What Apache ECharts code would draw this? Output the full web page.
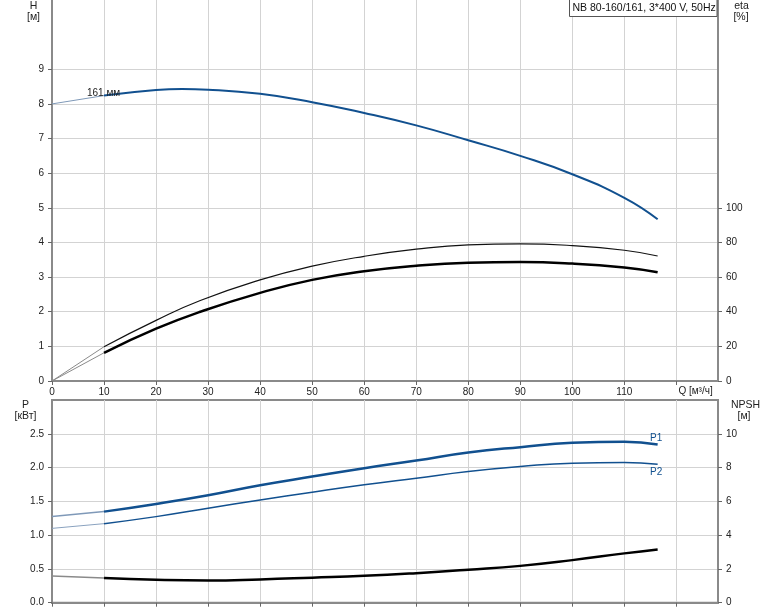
<!DOCTYPE html>
<html>
<head>
<meta charset="utf-8">
<script src="https://cdn.jsdelivr.net/npm/echarts@6/dist/echarts.min.js"></script>
<style>
html,body{margin:0;padding:0;background:#fff;}
#chart{width:774px;height:611px;}
</style>
</head>
<body>
<div id="chart"></div>
<script>
// ---- data ----
const qTicks = [0, 10, 20, 30, 40, 50, 60, 70, 80, 90, 100, 110, 120];
const hTicks = [0, 1, 2, 3, 4, 5, 6, 7, 8, 9];
const etaTicks = [0, 20, 40, 60, 80, 100];
const pTicks = [0, 0.5, 1.0, 1.5, 2.0, 2.5];
const npshTicks = [0, 2, 4, 6, 8, 10];

const qH = [0, 10, 20, 25, 30, 40, 50, 60, 70, 80, 90, 100, 110, 116.4];
const headH = [8.0, 8.24, 8.40, 8.43, 8.41, 8.29, 8.05, 7.74, 7.38, 6.95, 6.50, 5.97, 5.29, 4.67];

const qEta = [0, 10, 20, 28.5, 40, 50, 60, 70, 80, 90, 100, 110, 116.4];
const etaHydr = [0, 19.8, 35.0, 46.5, 58.4, 66.3, 72.0, 76.1, 78.6, 79.2, 78.2, 75.5, 72.2];
const etaTotal = [0, 16.3, 30.2, 40.0, 50.9, 58.4, 63.4, 66.6, 68.3, 68.7, 67.8, 65.5, 62.8];

const qP = [0, 10, 20, 30, 40, 50, 60, 70, 80, 90, 100, 110, 116.4];
const powerP1 = [1.274, 1.348, 1.462, 1.591, 1.739, 1.867, 1.991, 2.104, 2.222, 2.302, 2.366, 2.381, 2.341];
const powerP2 = [1.10, 1.17, 1.274, 1.398, 1.521, 1.635, 1.744, 1.843, 1.941, 2.015, 2.065, 2.074, 2.050];
const npshVals = [1.58, 1.46, 1.36, 1.32, 1.38, 1.48, 1.59, 1.75, 1.95, 2.18, 2.52, 2.92, 3.15];

const opStart = 10; // start of the drawn operating range
const titleText = 'NB 80-160/161, 3*400 V, 50Hz';
const curveLabel = '161 мм';

// ---- helpers ----
function seg(q, v, lo, hi) {
  const out = [];
  for (let i = 0; i < q.length; i++) if (q[i] >= lo && q[i] <= hi) out.push([q[i], v[i]]);
  return out;
}
const FONT = 'Arial, "Liberation Sans", sans-serif';
const BLUE = '#11508f';
const AXIS = '#8a8a8a';
const GRID = '#d3d3d3';
const FS = 10;

function xAx(grid, labels) {
  return {
    type: 'value', gridIndex: grid, min: 0, max: 128, interval: 10, position: 'bottom',
    axisLine: { show: true, onZero: false, lineStyle: { color: AXIS, width: 2 } },
    axisTick: { show: true, length: 4, customValues: qTicks, lineStyle: { color: '#666' } },
    axisLabel: { show: labels, customValues: qTicks, margin: 6, color: '#222', fontSize: FS, fontFamily: FONT,
      formatter: v => (v === 120 ? '' : String(v)) },
    splitLine: { show: true, lineStyle: { color: GRID, width: 1 } }
  };
}
function yAx(grid, pos, max, interval, ticks, split, fmt) {
  return {
    type: 'value', gridIndex: grid, position: pos, min: 0, max: max, interval: interval,
    axisLine: { show: true, onZero: false, lineStyle: { color: AXIS, width: 2 } },
    axisTick: { show: true, length: 4, customValues: ticks, lineStyle: { color: '#666' } },
    axisLabel: { customValues: ticks, margin: 8, color: '#222', fontSize: FS, fontFamily: FONT, formatter: fmt },
    splitLine: { show: split, lineStyle: { color: GRID, width: 1 } }
  };
}
function line(name, x, y, data, color, width, z) {
  return { name: name, type: 'line', xAxisIndex: x, yAxisIndex: y, data: data, showSymbol: false, symbol: 'none',
    smooth: data.length > 2, lineStyle: { color: color, width: width }, z: z || 2, silent: true };
}

const chart = echarts.init(document.getElementById('chart'), null, { renderer: 'canvas' });
const option = {
  animation: false,
  grid: [
    { left: 52, right: 56, top: 0, height: 381, show: false },
    { left: 52, right: 56, top: 400, height: 202.7, show: true, borderColor: AXIS, borderWidth: 2, backgroundColor: 'transparent' }
  ],
  xAxis: [xAx(0, true), xAx(1, false)],
  yAxis: [
    yAx(0, 'left', 11, 1, hTicks, true, v => String(v)),
    yAx(0, 'right', 220, 20, etaTicks, false, v => String(v)),
    yAx(1, 'left', 3, 0.5, pTicks, true, v => v.toFixed(1)),
    yAx(1, 'right', 12, 2, npshTicks, false, v => String(v))
  ],
  series: [
    line('H ext', 0, 0, seg(qH, headH, 0, opStart), '#7f99b8', 1),
    line('H', 0, 0, seg(qH, headH, opStart, 999), BLUE, 2, 4),
    line('eta1 ext', 0, 1, seg(qEta, etaHydr, 0, opStart), '#8a8a8a', 1),
    line('eta1', 0, 1, seg(qEta, etaHydr, opStart, 999), '#111', 1.2, 3),
    line('eta2 ext', 0, 1, seg(qEta, etaTotal, 0, opStart), '#8a8a8a', 1),
    line('eta2', 0, 1, seg(qEta, etaTotal, opStart, 999), '#000', 2.5, 3),
    line('P1 ext', 1, 2, seg(qP, powerP1, 0, opStart), '#7f99b8', 1.5),
    line('P1', 1, 2, seg(qP, powerP1, opStart, 999), BLUE, 2.5, 4),
    line('P2 ext', 1, 2, seg(qP, powerP2, 0, opStart), '#8aa2bf', 1),
    line('P2', 1, 2, seg(qP, powerP2, opStart, 999), BLUE, 1.5, 4),
    line('NPSH ext', 1, 3, seg(qP, npshVals, 0, opStart), '#8a8a8a', 1.5),
    line('NPSH', 1, 3, seg(qP, npshVals, opStart, 999), '#000', 2.5, 3)
  ]
};
chart.setOption(option);

// ---- text annotations anchored to the axes ----
const last = qP.length - 1;
const p1End = chart.convertToPixel({ xAxisIndex: 1, yAxisIndex: 2 }, [qP[last], powerP1[last]]);
const p2End = chart.convertToPixel({ xAxisIndex: 1, yAxisIndex: 2 }, [qP[last], powerP2[last]]);
const lblPt = chart.convertToPixel({ xAxisIndex: 0, yAxisIndex: 0 }, [qH[1], headH[1]]);
const q120 = chart.convertToPixel({ xAxisIndex: 0, yAxisIndex: 0 }, [120, 0]);
const ts = (t, x, y, align, extra) => Object.assign({ type: 'text', silent: true, z: 50,
  style: Object.assign({ text: t, x: x, y: y, textAlign: align || 'center', textVerticalAlign: 'middle',
    fill: '#222', font: '10.5px ' + FONT }, extra || {}) });

chart.setOption({
  graphic: [
    ts('H', 33.5, 6), ts('[м]', 33.5, 17.5),
    ts('eta', 741.5, 6), ts('[%]', 741, 17.5),
    ts('P', 25.5, 405), ts('[кВт]', 25.5, 416),
    ts('NPSH', 745.5, 405), ts('[м]', 744, 416),
    ts('Q [м³/ч]', q120[0] + 2, q120[1] + 10.5, 'left', { font: FS + 'px ' + FONT }),
    ts(curveLabel, lblPt[0] - 0.5, lblPt[1] - 2, 'center', { font: FS + 'px ' + FONT }),
    ts('P1', p1End[0] - 1.5, p1End[1] - 6, 'center', { fill: BLUE, font: FS + 'px ' + FONT }),
    ts('P2', p2End[0] - 1.5, p2End[1] + 8, 'center', { fill: BLUE, font: FS + 'px ' + FONT }),
    { type: 'rect', z: 40, silent: true, shape: { x: 569.5, y: -1, width: 147.5, height: 17.5 },
      style: { fill: '#fff', stroke: '#555', lineWidth: 1 } },
    ts(titleText, 572.5, 8.5, 'left', { fill: '#111' })
  ]
});
</script>
</body>
</html>
